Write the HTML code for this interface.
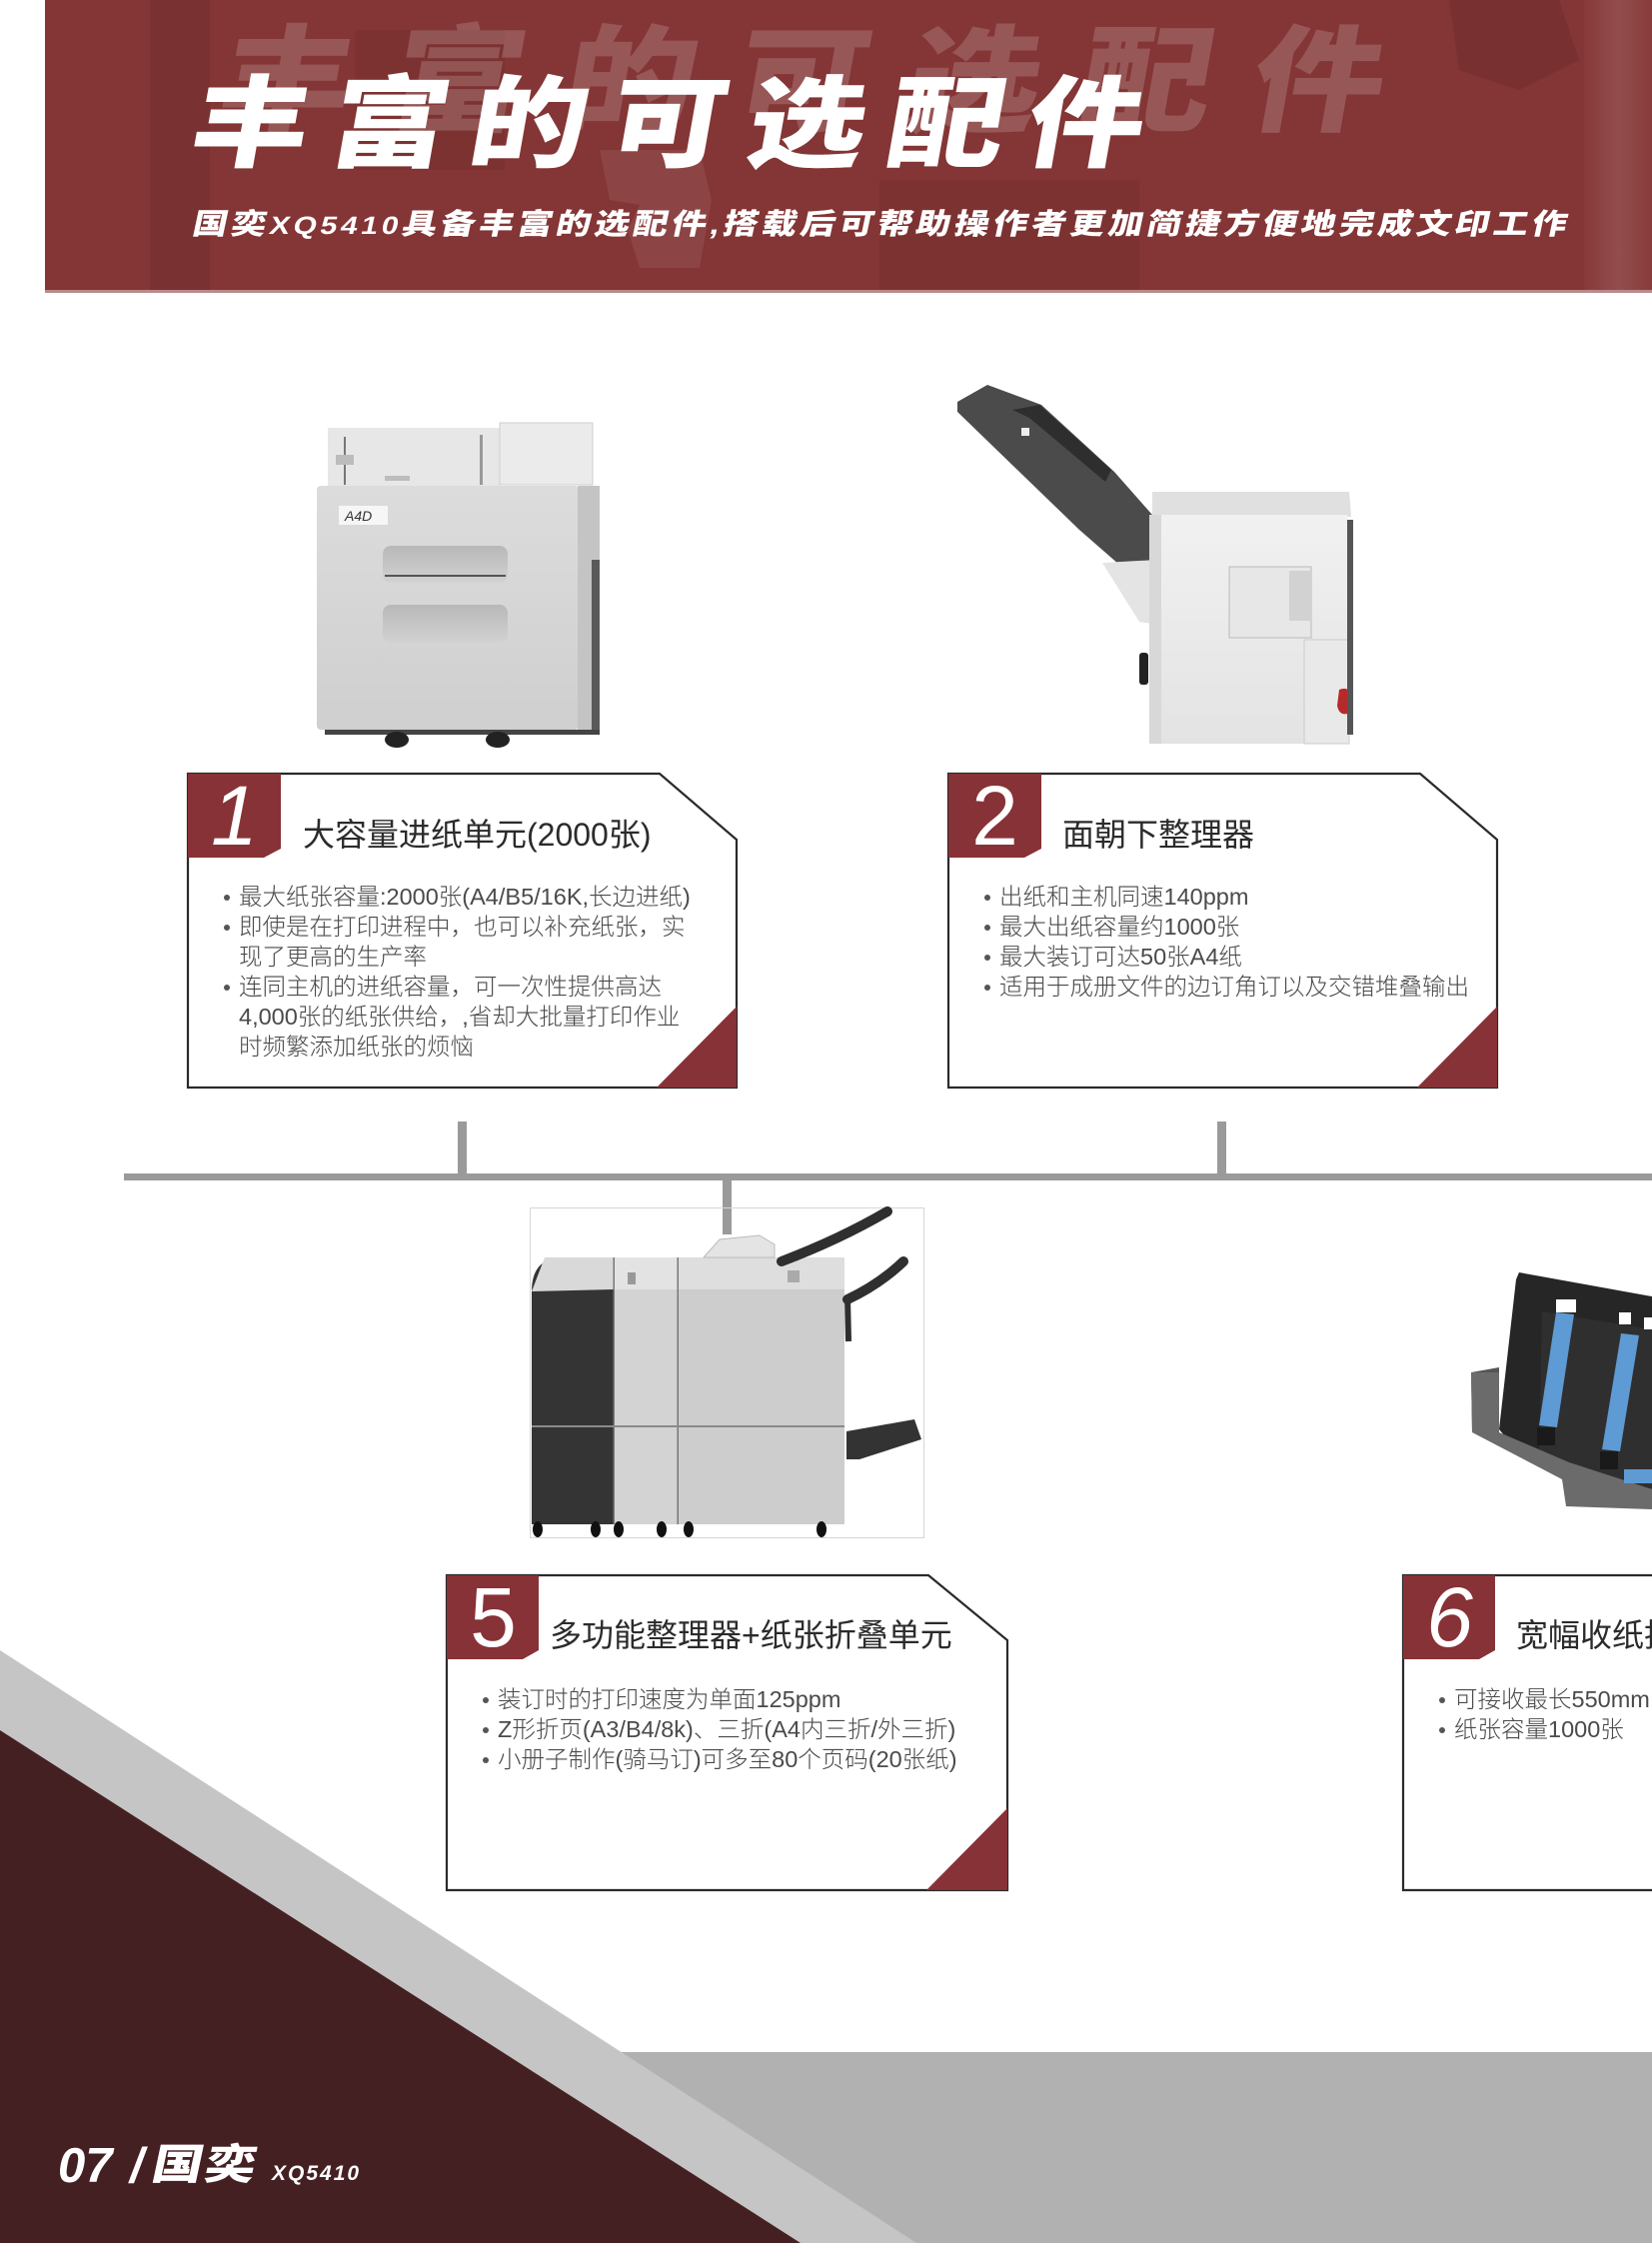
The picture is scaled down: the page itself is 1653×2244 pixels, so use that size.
<!DOCTYPE html>
<html><head><meta charset="utf-8">
<style>
*{margin:0;padding:0;box-sizing:border-box}
html,body{width:1653px;height:2244px;overflow:hidden;background:#fff}
body{position:relative;font-family:"Liberation Sans","Noto Sans CJK SC",sans-serif}
.abs{position:absolute;white-space:nowrap}
.dig{position:absolute;width:93px;text-align:center;font-size:84px;line-height:84px;color:#fff;font-family:"Liberation Sans",sans-serif}
.h{position:absolute;font-size:32px;line-height:40px;color:#2b2b2b;white-space:nowrap}
.bl{position:absolute;font-size:23.5px;line-height:30px;color:#4a4a4a;white-space:nowrap;font-weight:300}
.bl div{position:relative;padding-left:15px}
.bl div.b:before{content:"";position:absolute;left:0;top:13px;width:6px;height:6px;border-radius:50%;background:#555}
</style></head>
<body>
<svg width="1653" height="2244" style="position:absolute;left:0;top:0" xmlns="http://www.w3.org/2000/svg">
<defs>
<linearGradient id="gBody" x1="0" y1="0" x2="0" y2="1"><stop offset="0" stop-color="#dcdcdc"/><stop offset="1" stop-color="#cfcfcf"/></linearGradient>
<linearGradient id="gSlot" x1="0" y1="0" x2="0" y2="1"><stop offset="0" stop-color="#b8b8b8"/><stop offset="1" stop-color="#d2d2d2"/></linearGradient>
<linearGradient id="gP2" x1="0" y1="0" x2="0" y2="1"><stop offset="0" stop-color="#f1f1f1"/><stop offset="1" stop-color="#e3e3e3"/></linearGradient>
<linearGradient id="gCyl" x1="0" y1="0" x2="1" y2="0"><stop offset="0" stop-color="rgba(255,255,255,0.02)"/><stop offset="0.5" stop-color="rgba(255,255,255,0.12)"/><stop offset="1" stop-color="rgba(255,255,255,0.03)"/></linearGradient>
<clipPath id="hc"><rect x="45" y="0" width="1608" height="290"/></clipPath>
</defs>
<!-- header -->
<rect x="45" y="0" width="1608" height="293" fill="#843535"/>
<g clip-path="url(#hc)">
<rect x="150" y="0" width="60" height="293" fill="rgba(0,0,0,0.07)"/>
<rect x="355" y="30" width="150" height="140" fill="rgba(0,0,0,0.05)"/>
<rect x="880" y="180" width="260" height="113" fill="rgba(0,0,0,0.05)"/>
<polygon points="1450,0 1560,0 1580,60 1520,90 1460,70" fill="rgba(0,0,0,0.08)"/>
<path d="M600,150 L700,150 L712,200 L700,268 L640,268 L628,230 L640,205 L610,200 Z" fill="rgba(255,255,255,0.08)"/>
<rect x="1585" y="0" width="68" height="293" fill="url(#gCyl)"/>
</g>
<rect x="45" y="290" width="1608" height="3" fill="#b88a8a"/>

<!-- bottom decor -->
<rect x="500" y="2053" width="1153" height="191" fill="#b1b1b1"/>
<polygon points="0,1651 917,2244 0,2244" fill="#c5c5c5"/>
<polygon points="0,1731 801,2244 0,2244" fill="#452022"/>

<!-- connectors -->
<rect x="124" y="1174" width="1529" height="7" fill="#9a9a9a"/>
<rect x="458" y="1122" width="9" height="55" fill="#9a9a9a"/>
<rect x="1218" y="1122" width="9" height="55" fill="#9a9a9a"/>
<rect x="723" y="1178" width="9" height="57" fill="#9a9a9a"/>

<!-- product 1 -->
<rect x="328" y="428" width="172" height="60" fill="#e7e7e7"/>
<rect x="344" y="437" width="2" height="48" fill="#777"/>
<rect x="336" y="455" width="18" height="10" fill="#bcbcbc"/>
<rect x="385" y="476" width="25" height="5" fill="#bdbdbd"/>
<rect x="480" y="435" width="3" height="50" fill="#999"/>
<rect x="500" y="423" width="93" height="62" fill="#ebebeb" stroke="#cfcfcf"/>
<rect x="317" y="486" width="262" height="244" rx="4" fill="url(#gBody)"/>
<rect x="578" y="486" width="22" height="245" fill="#c4c4c4"/>
<rect x="592" y="560" width="8" height="170" fill="#5a5a5a"/>
<rect x="339" y="506" width="49" height="19" fill="#f6f6f6"/>
<text x="345" y="521" font-family="Liberation Sans" font-size="14" font-style="italic" fill="#333">A4D</text>
<rect x="383" y="546" width="125" height="37" rx="8" fill="url(#gSlot)"/>
<rect x="385" y="575" width="121" height="2" fill="#555"/>
<rect x="383" y="605" width="125" height="38" rx="8" fill="url(#gSlot)"/>
<rect x="325" y="730" width="275" height="5" fill="#444"/>
<ellipse cx="397" cy="740" rx="12" ry="8" fill="#222"/>
<ellipse cx="498" cy="740" rx="12" ry="8" fill="#222"/>

<!-- product 2 -->
<polygon points="958,402 988,385 1042,405 1115,472 1160,523 1162,578 1143,585 1080,530 958,412" fill="#4b4b4b"/>
<polygon points="1013,410 1040,405 1112,470 1106,482 1030,418" fill="#2e2e2e"/>
<rect x="1022" y="428" width="8" height="8" fill="#eee"/>
<polygon points="1103,563 1158,560 1160,625 1140,622" fill="#e4e4e4"/>
<polygon points="1153,492 1350,492 1352,517 1153,517" fill="#e0e0e0"/>
<rect x="1150" y="515" width="14" height="229" fill="#d8d8d8"/>
<rect x="1162" y="515" width="186" height="229" fill="url(#gP2)"/>
<rect x="1230" y="567" width="82" height="71" fill="#e7e7e7" stroke="#bbb"/>
<rect x="1290" y="571" width="22" height="50" fill="#d2d2d2"/>
<rect x="1140" y="653" width="9" height="32" rx="3" fill="#222"/>
<rect x="1305" y="640" width="45" height="104" fill="#e9e9e9" stroke="#ccc"/>
<path d="M1340,690 q10,-4 12,6 l-4,18 q-8,2 -10,-8z" fill="#b52a2a"/>
<rect x="1348" y="520" width="6" height="215" fill="#555"/>

<!-- product 4 -->
<rect x="530.5" y="1208.5" width="394" height="330" fill="none" stroke="#d6d6d6"/>
<path d="M532,1292 Q532,1260 560,1258 L614,1258 L614,1525 L532,1525 Z" fill="#343434"/>
<polygon points="545,1258 614,1258 614,1290 532,1292" fill="#d9d9d9"/>
<rect x="614" y="1258" width="64" height="267" fill="#d3d3d3"/>
<rect x="614" y="1258" width="64" height="32" fill="#e3e3e3"/>
<rect x="678" y="1258" width="167" height="267" fill="#cdcdcd"/>
<rect x="678" y="1258" width="167" height="32" fill="#dedede"/>
<rect x="613.5" y="1258" width="1.5" height="267" fill="#777"/>
<rect x="677.5" y="1258" width="1.5" height="267" fill="#777"/>
<rect x="532" y="1426" width="313" height="2" fill="#8a8a8a"/>
<polygon points="704,1258 720,1240 760,1236 775,1245 775,1258" fill="#e4e4e4" stroke="#bbb"/>
<rect x="628" y="1273" width="8" height="12" fill="#999"/>
<rect x="788" y="1271" width="12" height="12" fill="#aaa"/>
<path d="M782,1262 Q840,1240 888,1212" stroke="#2f2f2f" stroke-width="10" fill="none" stroke-linecap="round"/>
<path d="M848,1300 Q880,1285 904,1262" stroke="#2f2f2f" stroke-width="10" fill="none" stroke-linecap="round"/>
<path d="M848,1298 L849,1342" stroke="#2f2f2f" stroke-width="6" fill="none"/>
<polygon points="847,1432 915,1420 922,1440 860,1460 847,1460" fill="#333"/>
<g fill="#111"><ellipse cx="538" cy="1530" rx="5" ry="8"/><ellipse cx="596" cy="1530" rx="5" ry="8"/><ellipse cx="619" cy="1530" rx="5" ry="8"/><ellipse cx="662" cy="1530" rx="5" ry="8"/><ellipse cx="689" cy="1530" rx="5" ry="8"/><ellipse cx="822" cy="1530" rx="5" ry="8"/></g>

<!-- product 6 -->
<polygon points="1472,1373 1500,1368 1500,1433 1473,1433" fill="#555"/>
<polygon points="1520,1273 1653,1297 1653,1483 1517,1450 1500,1430 1517,1280" fill="#262626"/>
<polygon points="1543,1312 1653,1330 1653,1490 1540,1460" fill="#2f2f2f"/>
<rect x="1557" y="1300" width="20" height="13" fill="#fff"/>
<rect x="1620" y="1313" width="12" height="12" fill="#fff"/>
<rect x="1645" y="1318" width="8" height="12" fill="#fff"/>
<polygon points="1557,1313 1575,1315 1558,1428 1540,1426" fill="#5e9ad3"/>
<polygon points="1622,1334 1640,1336 1621,1452 1603,1450" fill="#5e9ad3"/>
<rect x="1538" y="1428" width="18" height="18" fill="#1a1a1a"/>
<rect x="1601" y="1452" width="18" height="18" fill="#1a1a1a"/>
<polygon points="1472,1373 1500,1373 1500,1433 1570,1463 1653,1490 1653,1510 1567,1507 1563,1480 1473,1433" fill="#6b6b6b"/>
<rect x="1625" y="1470" width="28" height="14" fill="#5e9ad3"/>

<!-- boxes -->
<polygon points="188,774 660,774 737,840 737,1088 188,1088" fill="#fff" stroke="#2a2a2a" stroke-width="2.2"/>
<polygon points="188,774 281,774 281,849 264,858 188,858" fill="#873236"/>
<polygon points="657,1088 737,1007 737,1088" fill="#873236"/>

<polygon points="949,774 1421,774 1498,840 1498,1088 949,1088" fill="#fff" stroke="#2a2a2a" stroke-width="2.2"/>
<polygon points="949,774 1042,774 1042,849 1025,858 949,858" fill="#873236"/>
<polygon points="1418,1088 1498,1007 1498,1088" fill="#873236"/>

<polygon points="447,1576 929,1576 1008,1641 1008,1891 447,1891" fill="#fff" stroke="#2a2a2a" stroke-width="2.2"/>
<polygon points="447,1576 539,1576 539,1651 523,1660 447,1660" fill="#873236"/>
<polygon points="927,1891 1008,1809 1008,1891" fill="#873236"/>

<polygon points="1404,1576 1886,1576 1965,1641 1965,1891 1404,1891" fill="#fff" stroke="#2a2a2a" stroke-width="2.2"/>
<polygon points="1404,1576 1496,1576 1496,1651 1480,1660 1404,1660" fill="#873236"/>
</svg>

<!-- header text -->
<div class="abs" style="left:221px;top:24px;font-size:116px;line-height:116px;font-weight:900;color:rgba(255,255,255,0.17);letter-spacing:35px;transform:skewX(-10deg) scaleX(1.14);transform-origin:0 50%">丰富的可选配件</div>
<div class="abs" style="left:193px;top:75px;font-size:100px;line-height:100px;font-weight:900;color:#fff;letter-spacing:19px;transform:skewX(-10deg) scaleX(1.17);transform-origin:0 50%">丰富的可选配件</div>
<div class="abs" style="left:193px;top:211px;font-size:29px;line-height:29px;font-weight:900;color:#fff;letter-spacing:3.1px;transform:skewX(-12deg) scaleX(1.2);transform-origin:0 50%">国奕<span style="font-size:25px">XQ5410</span>具备丰富的选配件,搭载后可帮助操作者更加简捷方便地完成文印工作</div>

<!-- box 1 -->
<div class="dig" style="left:188px;top:774px;font-style:italic">1</div>
<div class="h" style="left:303px;top:815px">大容量进纸单元(2000张)</div>
<div class="bl" style="left:224px;top:882px">
<div class="b">最大纸张容量:2000张(A4/B5/16K,长边进纸)</div>
<div class="b">即使是在打印进程中，也可以补充纸张，实</div>
<div>现了更高的生产率</div>
<div class="b">连同主机的进纸容量，可一次性提供高达</div>
<div>4,000张的纸张供给，,省却大批量打印作业</div>
<div>时频繁添加纸张的烦恼</div>
</div>

<!-- box 2 -->
<div class="dig" style="left:949px;top:774px">2</div>
<div class="h" style="left:1063px;top:815px">面朝下整理器</div>
<div class="bl" style="left:985px;top:882px">
<div class="b">出纸和主机同速140ppm</div>
<div class="b">最大出纸容量约1000张</div>
<div class="b">最大装订可达50张A4纸</div>
<div class="b">适用于成册文件的边订角订以及交错堆叠输出</div>
</div>

<!-- box 5 -->
<div class="dig" style="left:447px;top:1576px">5</div>
<div class="h" style="left:550px;top:1616px">多功能整理器+纸张折叠单元</div>
<div class="bl" style="left:483px;top:1685px">
<div class="b">装订时的打印速度为单面125ppm</div>
<div class="b">Z形折页(A3/B4/8k)、三折(A4内三折/外三折)</div>
<div class="b">小册子制作(骑马订)可多至80个页码(20张纸)</div>
</div>

<!-- box 6 -->
<div class="dig" style="left:1404px;top:1576px;font-style:italic">6</div>
<div class="h" style="left:1517px;top:1616px">宽幅收纸托盘</div>
<div class="bl" style="left:1440px;top:1685px">
<div class="b">可接收最长550mm的纸张</div>
<div class="b">纸张容量1000张</div>
</div>

<!-- footer -->
<div class="abs" style="left:58px;top:2143px;font-size:49px;line-height:49px;font-weight:bold;font-style:italic;color:#fff">07</div>
<div class="abs" style="left:130px;top:2143px;font-size:49px;line-height:49px;font-weight:bold;font-style:italic;color:#fff">/</div>
<div class="abs" style="left:153px;top:2145px;font-size:42px;line-height:42px;font-weight:900;color:#fff;letter-spacing:2px;transform:skewX(-12deg) scaleX(1.2);transform-origin:0 50%">国奕</div>
<div class="abs" style="left:272px;top:2164px;font-size:21px;line-height:21px;font-weight:bold;font-style:italic;color:#fff;letter-spacing:2px">XQ5410</div>
</body></html>
